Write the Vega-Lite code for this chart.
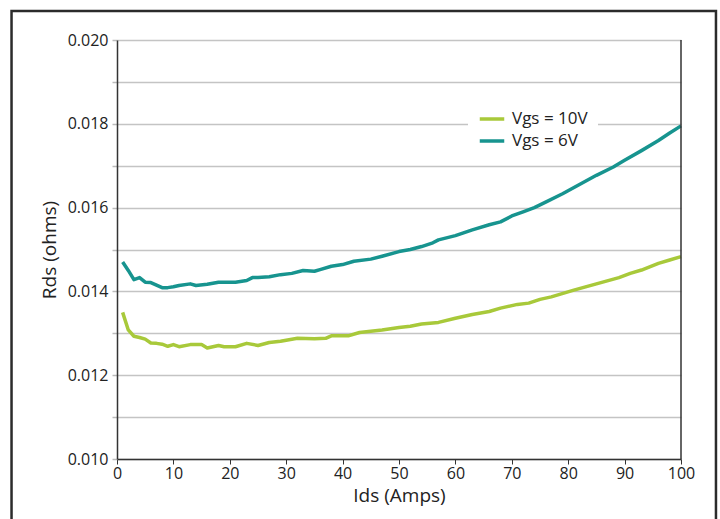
{
  "$schema": "https://vega.github.io/schema/vega-lite/v6.json",
  "width": 564,
  "height": 419,
  "autosize": "none",
  "padding": {"left": 117, "top": 40, "right": 39, "bottom": 60},
  "background": "white",
  "config": {
    "view": {"stroke": null},
    "font": "Open Sans",
    "axis": {"labelFont": "Open Sans", "titleFont": "Open Sans", "labelColor": "#222", "titleColor": "#222", "titleFontWeight": "normal"},
    "legend": {"labelFont": "Open Sans"}
  },
  "datasets": {
    "curves": [
      {"Ids": 1, "Rds": 0.01470, "series": "Vgs = 6V"},
      {"Ids": 2, "Rds": 0.01450, "series": "Vgs = 6V"},
      {"Ids": 3, "Rds": 0.01428, "series": "Vgs = 6V"},
      {"Ids": 4, "Rds": 0.01433, "series": "Vgs = 6V"},
      {"Ids": 5, "Rds": 0.01422, "series": "Vgs = 6V"},
      {"Ids": 6, "Rds": 0.01421, "series": "Vgs = 6V"},
      {"Ids": 7, "Rds": 0.01415, "series": "Vgs = 6V"},
      {"Ids": 8, "Rds": 0.01409, "series": "Vgs = 6V"},
      {"Ids": 9, "Rds": 0.01409, "series": "Vgs = 6V"},
      {"Ids": 10, "Rds": 0.01411, "series": "Vgs = 6V"},
      {"Ids": 11, "Rds": 0.01414, "series": "Vgs = 6V"},
      {"Ids": 13, "Rds": 0.01418, "series": "Vgs = 6V"},
      {"Ids": 14, "Rds": 0.01414, "series": "Vgs = 6V"},
      {"Ids": 16, "Rds": 0.01417, "series": "Vgs = 6V"},
      {"Ids": 18, "Rds": 0.01422, "series": "Vgs = 6V"},
      {"Ids": 21, "Rds": 0.01422, "series": "Vgs = 6V"},
      {"Ids": 23, "Rds": 0.01426, "series": "Vgs = 6V"},
      {"Ids": 24, "Rds": 0.01433, "series": "Vgs = 6V"},
      {"Ids": 25, "Rds": 0.01433, "series": "Vgs = 6V"},
      {"Ids": 27, "Rds": 0.01435, "series": "Vgs = 6V"},
      {"Ids": 29, "Rds": 0.01440, "series": "Vgs = 6V"},
      {"Ids": 31, "Rds": 0.01443, "series": "Vgs = 6V"},
      {"Ids": 33, "Rds": 0.01450, "series": "Vgs = 6V"},
      {"Ids": 35, "Rds": 0.01448, "series": "Vgs = 6V"},
      {"Ids": 36, "Rds": 0.01452, "series": "Vgs = 6V"},
      {"Ids": 38, "Rds": 0.01460, "series": "Vgs = 6V"},
      {"Ids": 40, "Rds": 0.01464, "series": "Vgs = 6V"},
      {"Ids": 42, "Rds": 0.01472, "series": "Vgs = 6V"},
      {"Ids": 45, "Rds": 0.01477, "series": "Vgs = 6V"},
      {"Ids": 47, "Rds": 0.01484, "series": "Vgs = 6V"},
      {"Ids": 50, "Rds": 0.01495, "series": "Vgs = 6V"},
      {"Ids": 52, "Rds": 0.01500, "series": "Vgs = 6V"},
      {"Ids": 54, "Rds": 0.01507, "series": "Vgs = 6V"},
      {"Ids": 56, "Rds": 0.01516, "series": "Vgs = 6V"},
      {"Ids": 57, "Rds": 0.01523, "series": "Vgs = 6V"},
      {"Ids": 60, "Rds": 0.01533, "series": "Vgs = 6V"},
      {"Ids": 63, "Rds": 0.01547, "series": "Vgs = 6V"},
      {"Ids": 66, "Rds": 0.01559, "series": "Vgs = 6V"},
      {"Ids": 68, "Rds": 0.01566, "series": "Vgs = 6V"},
      {"Ids": 70, "Rds": 0.01580, "series": "Vgs = 6V"},
      {"Ids": 72, "Rds": 0.01590, "series": "Vgs = 6V"},
      {"Ids": 74, "Rds": 0.01600, "series": "Vgs = 6V"},
      {"Ids": 76, "Rds": 0.01613, "series": "Vgs = 6V"},
      {"Ids": 79, "Rds": 0.01633, "series": "Vgs = 6V"},
      {"Ids": 82, "Rds": 0.01655, "series": "Vgs = 6V"},
      {"Ids": 85, "Rds": 0.01677, "series": "Vgs = 6V"},
      {"Ids": 88, "Rds": 0.01697, "series": "Vgs = 6V"},
      {"Ids": 90, "Rds": 0.01713, "series": "Vgs = 6V"},
      {"Ids": 93, "Rds": 0.01736, "series": "Vgs = 6V"},
      {"Ids": 96, "Rds": 0.01760, "series": "Vgs = 6V"},
      {"Ids": 98, "Rds": 0.01778, "series": "Vgs = 6V"},
      {"Ids": 100, "Rds": 0.01795, "series": "Vgs = 6V"},
      {"Ids": 1, "Rds": 0.01350, "series": "Vgs = 10V"},
      {"Ids": 2, "Rds": 0.01308, "series": "Vgs = 10V"},
      {"Ids": 3, "Rds": 0.01293, "series": "Vgs = 10V"},
      {"Ids": 4, "Rds": 0.01290, "series": "Vgs = 10V"},
      {"Ids": 5, "Rds": 0.01286, "series": "Vgs = 10V"},
      {"Ids": 6, "Rds": 0.01277, "series": "Vgs = 10V"},
      {"Ids": 7, "Rds": 0.01276, "series": "Vgs = 10V"},
      {"Ids": 8, "Rds": 0.01274, "series": "Vgs = 10V"},
      {"Ids": 9, "Rds": 0.01269, "series": "Vgs = 10V"},
      {"Ids": 10, "Rds": 0.01273, "series": "Vgs = 10V"},
      {"Ids": 11, "Rds": 0.01268, "series": "Vgs = 10V"},
      {"Ids": 13, "Rds": 0.01273, "series": "Vgs = 10V"},
      {"Ids": 15, "Rds": 0.01273, "series": "Vgs = 10V"},
      {"Ids": 16, "Rds": 0.01265, "series": "Vgs = 10V"},
      {"Ids": 18, "Rds": 0.01271, "series": "Vgs = 10V"},
      {"Ids": 19, "Rds": 0.01268, "series": "Vgs = 10V"},
      {"Ids": 21, "Rds": 0.01268, "series": "Vgs = 10V"},
      {"Ids": 23, "Rds": 0.01276, "series": "Vgs = 10V"},
      {"Ids": 25, "Rds": 0.01271, "series": "Vgs = 10V"},
      {"Ids": 27, "Rds": 0.01278, "series": "Vgs = 10V"},
      {"Ids": 29, "Rds": 0.01281, "series": "Vgs = 10V"},
      {"Ids": 32, "Rds": 0.01288, "series": "Vgs = 10V"},
      {"Ids": 35, "Rds": 0.01287, "series": "Vgs = 10V"},
      {"Ids": 37, "Rds": 0.01288, "series": "Vgs = 10V"},
      {"Ids": 38, "Rds": 0.01294, "series": "Vgs = 10V"},
      {"Ids": 41, "Rds": 0.01294, "series": "Vgs = 10V"},
      {"Ids": 43, "Rds": 0.01302, "series": "Vgs = 10V"},
      {"Ids": 45, "Rds": 0.01305, "series": "Vgs = 10V"},
      {"Ids": 47, "Rds": 0.01308, "series": "Vgs = 10V"},
      {"Ids": 50, "Rds": 0.01314, "series": "Vgs = 10V"},
      {"Ids": 52, "Rds": 0.01317, "series": "Vgs = 10V"},
      {"Ids": 54, "Rds": 0.01322, "series": "Vgs = 10V"},
      {"Ids": 57, "Rds": 0.01326, "series": "Vgs = 10V"},
      {"Ids": 60, "Rds": 0.01336, "series": "Vgs = 10V"},
      {"Ids": 63, "Rds": 0.01345, "series": "Vgs = 10V"},
      {"Ids": 66, "Rds": 0.01352, "series": "Vgs = 10V"},
      {"Ids": 68, "Rds": 0.01360, "series": "Vgs = 10V"},
      {"Ids": 71, "Rds": 0.01369, "series": "Vgs = 10V"},
      {"Ids": 73, "Rds": 0.01372, "series": "Vgs = 10V"},
      {"Ids": 75, "Rds": 0.01381, "series": "Vgs = 10V"},
      {"Ids": 77, "Rds": 0.01387, "series": "Vgs = 10V"},
      {"Ids": 81, "Rds": 0.01403, "series": "Vgs = 10V"},
      {"Ids": 85, "Rds": 0.01418, "series": "Vgs = 10V"},
      {"Ids": 89, "Rds": 0.01433, "series": "Vgs = 10V"},
      {"Ids": 91, "Rds": 0.01443, "series": "Vgs = 10V"},
      {"Ids": 93, "Rds": 0.01451, "series": "Vgs = 10V"},
      {"Ids": 96, "Rds": 0.01467, "series": "Vgs = 10V"},
      {"Ids": 98, "Rds": 0.01475, "series": "Vgs = 10V"},
      {"Ids": 100, "Rds": 0.01483, "series": "Vgs = 10V"}
    ]
  },
  "layer": [
    {
      "data": {"values": [{}]},
      "mark": {"type": "rect", "filled": false, "stroke": "#2b2b2b", "strokeWidth": 2.5, "clip": false},
      "encoding": {
        "x": {"datum": -18.7, "type": "quantitative", "scale": {"domain": [0, 100], "nice": false}},
        "x2": {"datum": 106.2},
        "y": {"datum": 0.02069, "type": "quantitative", "scale": {"domain": [0.010, 0.020], "nice": false, "zero": false}},
        "y2": {"datum": 0.0080}
      }
    },
    {
      "data": {"name": "curves"},
      "mark": {"type": "line", "strokeWidth": 3.5, "strokeJoin": "round"},
      "encoding": {
        "x": {
          "field": "Ids", "type": "quantitative",
          "scale": {"domain": [0, 100], "nice": false},
          "axis": {
            "title": "Ids (Amps)", "titleFontSize": 19, "titlePadding": 5,
            "values": [0, 10, 20, 30, 40, 50, 60, 70, 80, 90, 100],
            "labelFontSize": 16, "labelPadding": 1, "labelFlush": false,
            "tickSize": 5, "tickColor": "#333", "domainColor": "#333", "domainWidth": 1.5,
            "grid": false
          }
        },
        "y": {
          "field": "Rds", "type": "quantitative",
          "scale": {"domain": [0.010, 0.020], "nice": false, "zero": false},
          "axis": {
            "title": "Rds (ohms)", "titleFontSize": 19, "titlePadding": 8,
            "values": [0.010, 0.011, 0.012, 0.013, 0.014, 0.015, 0.016, 0.017, 0.018, 0.019, 0.020],
            "labelExpr": "round(datum.value * 1000) % 2 === 0 ? format(datum.value, '.3f') : ''",
            "labelFontSize": 16, "labelPadding": 4, "labelFlush": false,
            "tickSize": 5, "tickColor": "#bbbbbb", "tickWidth": 1.5,
            "domainColor": "#333", "domainWidth": 1.5,
            "grid": true, "gridColor": "#c4c4c4", "gridWidth": 1.5
          }
        },
        "color": {
          "field": "series", "type": "nominal",
          "scale": {"domain": ["Vgs = 10V", "Vgs = 6V"], "range": ["#a8c93a", "#17948f"]},
          "legend": {
            "title": null, "orient": "none", "legendX": 351, "legendY": 55,
            "fillColor": "white", "padding": 10,
            "symbolType": "stroke", "symbolSize": 600, "symbolStrokeWidth": 3.5,
            "labelFontSize": 17, "labelColor": "#222", "rowPadding": 0, "labelOffset": 6
          }
        }
      }
    },
    {
      "data": {"values": [{}]},
      "mark": {"type": "rule", "color": "#333", "strokeWidth": 1.5},
      "encoding": {
        "x": {"datum": 100, "type": "quantitative"},
        "y": {"datum": 0.010, "type": "quantitative"},
        "y2": {"datum": 0.020}
      }
    }
  ]
}
